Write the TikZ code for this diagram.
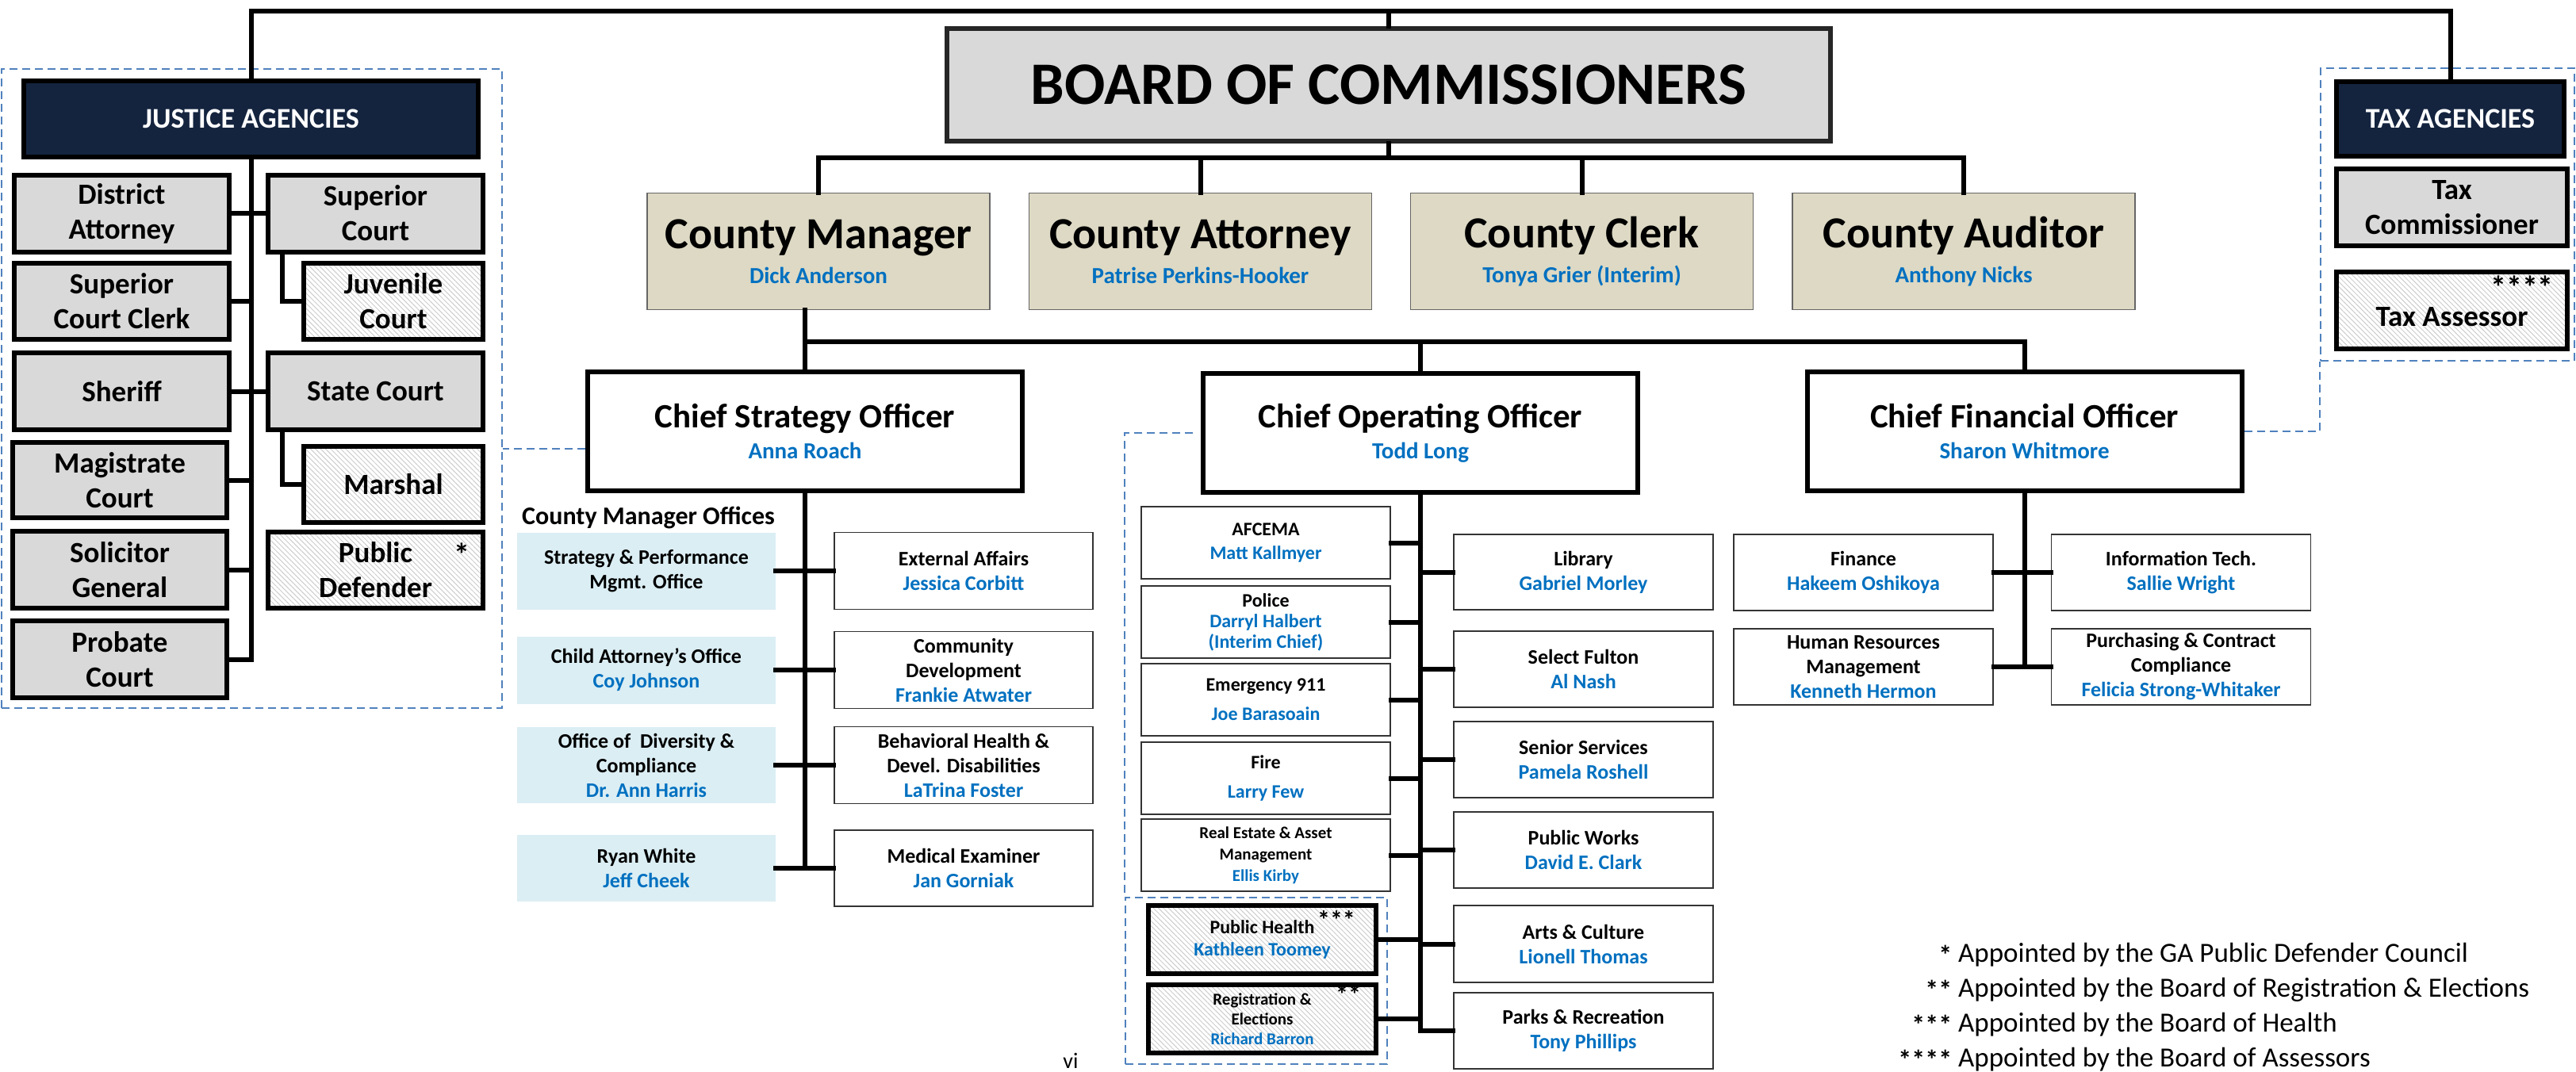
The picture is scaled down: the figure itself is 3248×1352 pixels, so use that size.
\documentclass[tikz,border=0pt]{standalone}
\usepackage{fontspec}
\setmainfont{Carlito}
\usetikzlibrary{patterns.meta}
\definecolor{navy}{HTML}{14243F}
\definecolor{boxgray}{HTML}{D9D9D9}
\definecolor{headtan}{HTML}{DDD9C4}
\definecolor{offblue}{HTML}{DBEEF4}
\definecolor{nameblue}{HTML}{0070C0}
\definecolor{dashblue}{HTML}{4F81BD}
\newcommand{\who}[1]{{\color{nameblue}#1}}
\newcommand{\fsz}[2]{\fontsize{#1}{#2}\selectfont}
\newcommand{\keymark}[1]{\llap{\raisebox{-3pt}[0pt][0pt]{\bfseries\fsz{34}{34}#1}\hspace{8pt}}}

\begin{document}
\begin{tikzpicture}
	[x=1pt, y=-1pt,
	every node/.style={inner sep=0pt, align=center, font=\bfseries},
	wh/.style 2 args={minimum width=#1pt, minimum height=#2pt},
	line/.style={line width=6pt, line cap=rect},
	gap/.style={draw=dashblue, line width=2.5pt, dash pattern=on 10pt off 6pt},
	agency/.style={draw, line width=6pt, fill=navy, text=white, font=\bfseries\fsz{36}{42}},
	courtbox/.style={draw, line width=6pt, font=\bfseries\fsz{37}{44}},
	court/.style={courtbox, fill=boxgray},
	hatched/.style={draw, line width=6pt, pattern color=gray!40, pattern={Lines[angle=-45, distance=4.5pt, line width=1pt]}},
	board/.style={draw=black!85, line width=6pt, fill=boxgray, wh={1114}{142}, font=\bfseries\fsz{76}{80}},
	head/.style={draw=black!60, line width=1.5pt, fill=headtan, wh={432}{147}, font=\bfseries\fsz{56}{44}},
	chief/.style={draw, line width=6pt, fill=white, wh={548}{150}, font=\bfseries\fsz{43}{39}},
	unit/.style={draw=black!80, line width=1.5pt, fill=white, font=\bfseries\fsz{26}{31}},
	office/.style={fill=offblue, font=\bfseries\fsz{26}{31}},
	stars/.style={font=\bfseries\fsz{40}{40}},
	legend/.style={font=\fsz{35}{42}}]
	\useasboundingbox (0,0) rectangle (3248,1352);

	% justice agencies
	\node[gap, wh={631}{806}] (jgroup) at (317.5,490) {};
	\node[agency, wh={573}{96}] (justice) at (316.5,150) {JUSTICE AGENCIES};
	\node[court, wh={271}{97}] (da) at (153.5,269) {District\\Attorney};
	\node[court, wh={271}{97}] (supc) at (473.5,269) {Superior\\Court};
	\node[court, wh={271}{96}] (scc) at (153.5,380) {Superior\\Court Clerk};
	\node[courtbox, hatched, wh={226}{96}] (juv) at (496,380) {Juvenile\\Court};
	\node[court, wh={271}{97}] (sheriff) at (153.5,493.5) {Sheriff};
	\node[court, wh={271}{97}] (state) at (473.5,493.5) {State Court};
	\node[court, wh={270}{95}] (mag) at (151,605.5) {Magistrate\\Court};
	\node[courtbox, hatched, wh={226}{96}] (marshal) at (496,611) {Marshal};
	\node[court, wh={270}{97}] (sol) at (151,718.5) {Solicitor\\General};
	\node[courtbox, hatched, wh={271}{96}] (pd) at (473.5,719) {Public\\Defender};
	\node[stars] (pdstar) at (582,699) {*};
	\node[court, wh={270}{97}] (prob) at (151,831.5) {Probate\\Court};

	\draw[line] (justice) -- (justice |- prob);
	\draw[line] (da) -- (supc);
	\draw[line] (scc) -- (scc -| justice);
	\draw[line] (sheriff) -- (state);
	\draw[line] (mag) -- (mag -| justice);
	\draw[line] (sol) -- (sol -| justice);
	\draw[line] (prob) -- (prob -| justice);
	\draw[line] ([xshift=21pt]supc.south west) |- (juv);
	\draw[line] ([xshift=21pt]state.south west) |- (marshal);

	% tax agencies
	\node[gap, wh={320}{369}] (tgroup) at (3086,270.5) {};
	\node[agency, wh={287}{94}] (taxag) at (3089.5,150) {TAX AGENCIES};
	\node[court, wh={291}{97}] (taxcom) at (3091.5,261.5) {Tax\\Commissioner};
	\node[courtbox, hatched, wh={291}{97}] (taxass) at (3091.5,391.5) {\raisebox{-8pt}[\height][\depth]{Tax Assessor}};
	\node[stars] (taxstar) at (3180,362) {****};

	% board and heads
	\coordinate (top) at (1751,14);
	\node[board] (board) at (1751,107) {BOARD OF COMMISSIONERS};
	\draw[line] (justice) |- (top) -| (taxag);
	\draw[line] (top) -- (board);

	\node[head] (cm) at (1032,317) {County Manager\\{\fsz{29}{34}\who{Dick Anderson}}};
	\node[head] (ca) at (1513.5,317) {County Attorney\\{\fsz{29}{34}\who{Patrise Perkins-Hooker}}};
	\node[head] (cc) at (1994.5,317) {County Clerk\\{\fsz{29}{34}\who{Tonya Grier (Interim)}}};
	\node[head] (caud) at (2476,317) {County Auditor\\{\fsz{29}{34}\who{Anthony Nicks}}};
	\coordinate (bar1) at (1751,199);
	\draw[line] (board) -- (bar1);
	\draw[line] (cm) |- (bar1) -| (caud);
	\draw[line] (ca) -- (ca |- bar1);
	\draw[line] (cc) -- (cc |- bar1);

	% chiefs
	\node[chief] (cso) at (1015,544) {Chief Strategy Officer\\{\fsz{29}{34}\who{Anna Roach}}};
	\node[chief] (coo) at (1791,546) {Chief Operating Officer\\{\fsz{29}{34}\who{Todd Long}}};
	\node[chief] (cfo) at (2552.5,544) {Chief Financial Officer\\{\fsz{29}{34}\who{Sharon Whitmore}}};
	\coordinate (bar2) at (1791,431);
	\draw[line] (cm.south -| cso) -- (cso);
	\draw[line] (cso) |- (bar2) -| (cfo);
	\draw[line] (coo) -- (bar2);

	\draw[gap] ([yshift=-22pt]cso.west) -- ([yshift=-22pt]cso.west -| jgroup.east);
	\draw[gap] (cfo) -| (tgroup.south west);

	% county manager offices
	\node[anchor=west, font=\bfseries\fsz{32}{38}] (cmo) at (658,653) {County Manager Offices};
	\node[office, wh={326}{97}] (so1) at (815,720) {Strategy \& Performance\\Mgmt. Office};
	\node[office, wh={326}{85}] (so2) at (815,845) {Child Attorney’s Office\\\who{Coy Johnson}};
	\node[office, wh={326}{96}] (so3) at (815,965) {Office of~ Diversity \&\\Compliance\\\who{Dr. Ann Harris}};
	\node[office, wh={326}{84}] (so4) at (815,1095) {Ryan White\\\who{Jeff Cheek}};
	\node[unit, wh={326}{97}] (ea) at (1215,720) {External Affairs\\\who{Jessica Corbitt}};
	\node[unit, wh={326}{97}] (cd) at (1215,845) {Community\\Development\\\who{Frankie Atwater}};
	\node[unit, wh={326}{97}] (bh) at (1215,965) {Behavioral Health \&\\Devel. Disabilities\\\who{LaTrina Foster}};
	\node[unit, wh={326}{96}] (me) at (1215,1095) {Medical Examiner\\\who{Jan Gorniak}};
	\draw[line] (cso) -- (cso |- so4);
	\draw[line] (so1) -- (ea);
	\draw[line] (so2) -- (cd);
	\draw[line] (so3) -- (bh);
	\draw[line] (so4) -- (me);

	% operating departments
	\node[gap, wh={330}{210}] (pgroup) at (1584,1237) {};
	\draw[gap] ([xshift=-10pt]coo.west) -| (pgroup.north west);
	\node[unit, wh={314}{91}, font=\bfseries\fsz{24}{30}] (afc) at (1596,684.5) {AFCEMA\\\who{Matt Kallmyer}};
	\node[unit, wh={314}{91}, font=\bfseries\fsz{24}{26}] (pol) at (1596,784.5) {Police\\\who{Darryl Halbert}\\\who{(Interim Chief)}};
	\node[unit, wh={314}{91}, font=\bfseries\fsz{24}{37}] (e911) at (1596,882.5) {Emergency 911\\\who{Joe Barasoain}};
	\node[unit, wh={314}{91}, font=\bfseries\fsz{24}{37}] (fire) at (1596,981.5) {Fire\\\who{Larry Few}};
	\node[unit, wh={314}{91}, font=\bfseries\fsz{21}{27}] (re) at (1596,1078.5) {Real Estate \& Asset\\Management\\\who{Ellis Kirby}};
	\node[hatched, wh={287}{86}, font=\bfseries\fsz{24}{28}] (ph) at (1591.5,1184.5) {Public Health\\\who{Kathleen Toomey}};
	\node[stars, font=\bfseries\fsz{32}{32}] (phstar) at (1685,1160) {***};
	\node[hatched, wh={287}{86}, font=\bfseries\fsz{21}{25}] (reg) at (1591.5,1285) {Registration \&\\Elections\\\who{Richard Barron}};
	\node[stars, font=\bfseries\fsz{32}{32}] (regstar) at (1700,1254) {**};
	\node[unit, wh={327}{95}] (lib) at (1996.5,721.5) {Library\\\who{Gabriel Morley}};
	\node[unit, wh={327}{96}] (sel) at (1996.5,844) {Select Fulton\\\who{Al Nash}};
	\node[unit, wh={327}{96}] (sen) at (1996.5,958) {Senior Services\\\who{Pamela Roshell}};
	\node[unit, wh={327}{96}] (pw) at (1996.5,1072) {Public Works\\\who{David E. Clark}};
	\node[unit, wh={327}{97}] (arts) at (1996.5,1190.5) {Arts \& Culture\\\who{Lionell Thomas}};
	\node[unit, wh={327}{96}] (parks) at (1996.5,1300) {Parks \& Recreation\\\who{Tony Phillips}};
	\draw[line] (coo) -- (coo |- parks);
	\foreach \d in {afc,pol,e911,fire,re,ph,reg,lib,sel,sen,pw,arts,parks}
		\draw[line] (\d) -- (\d -| coo);

	% financial departments
	\node[unit, wh={327}{96}] (fin) at (2349.5,722) {Finance\\\who{Hakeem Oshikoya}};
	\node[unit, wh={327}{96}] (it) at (2750,722) {Information Tech.\\\who{Sallie Wright}};
	\node[unit, wh={327}{96}] (hr) at (2349.5,841) {Human Resources\\Management\\\who{Kenneth Hermon}};
	\node[unit, wh={327}{96}] (pur) at (2750,841) {Purchasing \& Contract\\Compliance\\\who{Felicia Strong-Whitaker}};
	\draw[line] (cfo) -- (cfo |- hr);
	\draw[line] (fin) -- (it);
	\draw[line] (hr) -- (pur);

	% legend
	\node[legend, anchor=base west] (l1) at (2469,1213) {\keymark{*}Appointed by the GA Public Defender Council};
	\node[legend, anchor=base west] (l2) at (2469,1257) {\keymark{**}Appointed by the Board of Registration \& Elections};
	\node[legend, anchor=base west] (l3) at (2469,1301) {\keymark{***}Appointed by the Board of Health};
	\node[legend, anchor=base west] (l4) at (2469,1345) {\keymark{****}Appointed by the Board of Assessors};

	\node[font=\fsz{28}{30}] (page) at (1350,1338) {vi};
\end{tikzpicture}
\end{document}
